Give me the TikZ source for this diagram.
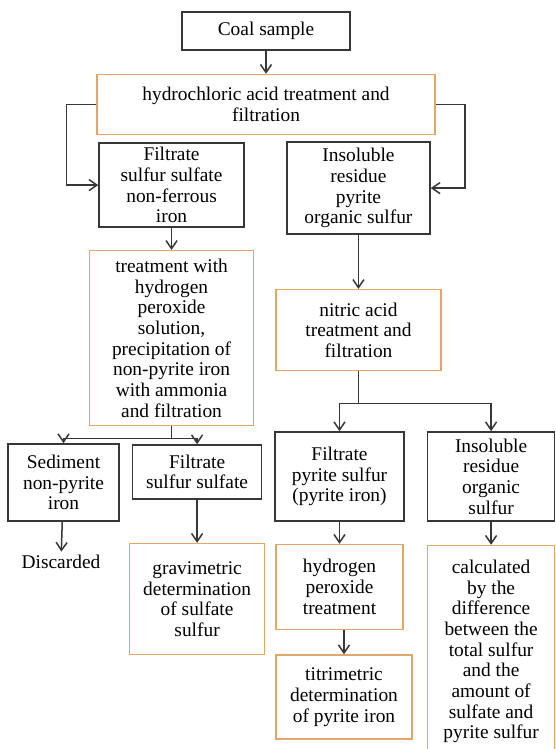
\documentclass[tikz,border=0pt]{standalone}
\usepackage{fontspec}
\newfontfamily\schemefont{Liberation Serif}
\usetikzlibrary{arrows.meta,positioning}
\definecolor{boxorange}{RGB}{226,166,104}
\definecolor{linegray}{RGB}{55,55,55}

\begin{document}
\begin{tikzpicture}[
        x=1pt, y=-1pt,
        every node/.style={font=\schemefont\fontsize{19.4}{20.7}\selectfont},
        sample/.style={rectangle, draw=linegray, line width=1.6pt, align=center, inner sep=0pt},
        process/.style={rectangle, draw=boxorange, line width=1.5pt, align=center, inner sep=0pt},
        arrow/.style={-{Straight Barb[length=8pt,width=11pt]}, line width=1.5pt, draw=linegray},
        link/.style={line width=1.5pt, draw=linegray}
    ]
        \useasboundingbox (0,0) rectangle (555,749);

        % Top of the scheme
        \node[sample, minimum width=168pt, minimum height=38pt] (coal) at (266,31) {Coal sample};
        \node[process, minimum width=338pt, minimum height=60pt, below=23pt of coal] (hcl) {hydrochloric acid treatment and\\filtration};

        % First separation
        \node[sample, minimum width=145pt, minimum height=84pt, below right=7pt and 2pt of hcl.south west] (filtrate) {Filtrate\\sulfur sulfate\\non-ferrous\\iron};
        \node[sample, minimum width=143pt, minimum height=92pt, below left=6pt and 5pt of hcl.south east] (residue) {Insoluble\\residue\\pyrite\\organic sulfur};
        \node[process, minimum width=164pt, minimum height=175pt, below=22pt of filtrate] (peroxide) {treatment with\\hydrogen\\peroxide\\solution,\\precipitation of\\non-pyrite iron\\with ammonia\\and filtration};
        \node[process, minimum width=165pt, minimum height=81pt, below=54pt of residue] (nitric) {nitric acid\\treatment and\\filtration};

        % Left branch
        \node[sample, minimum width=111pt, minimum height=77pt] (sediment) at (63.5,482.5) {Sediment\\non-pyrite\\iron};
        \node[sample, minimum width=129pt, minimum height=54pt, below right=1pt and 12pt of sediment.north east] (sulfate) {Filtrate\\sulfur sulfate};
        \node (discarded) at (61,562) {Discarded};
        \node[process, minimum width=135pt, minimum height=111pt, below=43pt of sulfate] (gravimetric) {gravimetric\\determination\\of sulfate\\sulfur};

        % Right branch
        \node[sample, minimum width=129pt, minimum height=89pt] (pyrite) at (339.5,476.5) {Filtrate\\pyrite sulfur\\(pyrite iron)};
        \node[sample, minimum width=127pt, minimum height=89pt, right=22pt of pyrite] (organic) {Insoluble\\residue\\organic\\sulfur};
        \node[process, minimum width=127pt, minimum height=85pt, below=22pt of pyrite] (hydro) {hydrogen\\peroxide\\treatment};
        \node[process, minimum width=136pt, minimum height=84pt, below=24pt of hydro, xshift=4.5pt] (titrimetric) {titrimetric\\determination\\of pyrite iron};
        \node[process, minimum width=127pt, minimum height=212pt, below=23pt of organic] (calculated) {calculated\\by the\\difference\\between the\\total sulfur\\and the\\amount of\\sulfate and\\pyrite sulfur};

        % Connections
        \draw[arrow] (coal) -- (hcl);
        \draw[arrow] (hcl.west) -- ++(-30,0) |- (filtrate.west);
        \draw[arrow] (hcl.east) -- ++(29,0) |- (residue.east);
        \draw[arrow] (filtrate) -- (peroxide);
        \draw[arrow] (residue) -- (nitric);

        \coordinate[below=12pt of peroxide.south] (split1);
        \draw[link] (peroxide.south) -- (split1);
        \draw[arrow] (split1) -| (sediment.north);
        \draw[arrow] (split1) -| (sulfate.north);

        \coordinate[below=32pt of nitric.south] (split2);
        \draw[link] (nitric.south) -- (split2);
        \draw[arrow] (split2) -| (pyrite.north);
        \draw[arrow] (split2) -| (organic.north);

        \draw[arrow] (sediment) -- (discarded);
        \draw[arrow] (sulfate) -- (gravimetric);
        \draw[arrow] (pyrite) -- (hydro);
        \draw[arrow] (titrimetric.north |- hydro.south) -- (titrimetric.north);
        \draw[arrow] (organic) -- (calculated);
    \end{tikzpicture}
\end{document}
